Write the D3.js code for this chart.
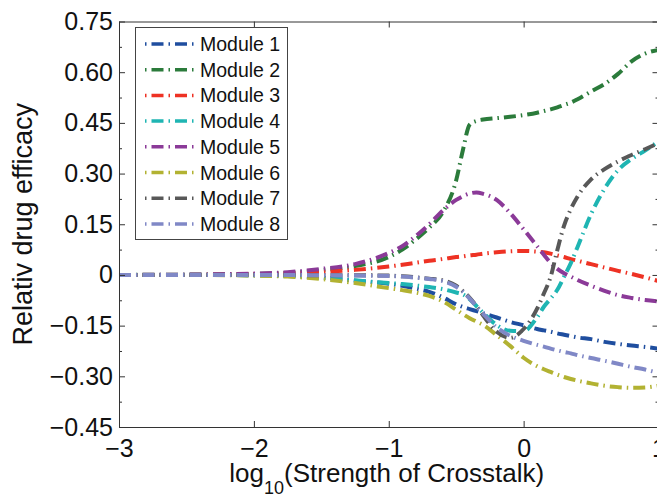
<!DOCTYPE html>
<html>
<head>
<meta charset="utf-8">
<script src="https://cdn.jsdelivr.net/npm/d3@7"></script>
<style>
	body { margin: 0; background: #fff; }
	text { font-family: "Liberation Sans", Arial, sans-serif; fill: #111; }
</style>
</head>
<body>
<div id="chart"></div>
<script>
//Shared x positions (log10 of crosstalk strength)
var xs = [-3, -2.5, -2, -1.75, -1.5, -1.25, -1, -0.9, -0.8, -0.7, -0.6, -0.5, -0.45, -0.4, -0.35, -0.3,
	-0.2, -0.1, 0, 0.1, 0.15, 0.2, 0.25, 0.3, 0.35, 0.4, 0.5, 0.6, 0.7, 0.8, 0.9, 1];

//Relative drug efficacy of each module
var module1 = [0, 0, -0.001, -0.003, -0.008, -0.017, -0.026, -0.032, -0.04, -0.05, -0.066, -0.087, -0.095, -0.101, -0.107, -0.113,
	-0.126, -0.139, -0.149, -0.16, -0.164, -0.168, -0.173, -0.177, -0.181, -0.185, -0.19, -0.198, -0.204, -0.209, -0.213, -0.218];
var module2 = [0, 0.001, 0.003, 0.006, 0.014, 0.026, 0.053, 0.075, 0.105, 0.14, 0.185, 0.28, 0.37, 0.445, 0.456, 0.46,
	0.464, 0.468, 0.473, 0.48, 0.485, 0.49, 0.496, 0.503, 0.51, 0.52, 0.543, 0.565, 0.595, 0.632, 0.655, 0.666];
var module3 = [0, 0, 0.002, 0.004, 0.009, 0.015, 0.025, 0.03, 0.036, 0.042, 0.047, 0.053, 0.055, 0.058, 0.06, 0.063,
	0.067, 0.07, 0.071, 0.069, 0.067, 0.063, 0.058, 0.053, 0.047, 0.042, 0.032, 0.022, 0.012, 0.003, -0.007, -0.018];
var module4 = [0, 0, -0.001, -0.003, -0.008, -0.016, -0.024, -0.027, -0.031, -0.036, -0.042, -0.052, -0.058, -0.072, -0.092, -0.112,
	-0.148, -0.165, -0.166, -0.125, -0.094, -0.07, -0.044, -0.005, 0.035, 0.083, 0.18, 0.255, 0.31, 0.343, 0.368, 0.395];
var module5 = [0, 0.001, 0.004, 0.008, 0.018, 0.032, 0.065, 0.085, 0.115, 0.15, 0.19, 0.222, 0.233, 0.241, 0.244, 0.24,
	0.222, 0.183, 0.135, 0.085, 0.06, 0.036, 0.018, 0.005, -0.005, -0.015, -0.032, -0.047, -0.06, -0.068, -0.074, -0.078];
var module6 = [0, 0, -0.002, -0.005, -0.012, -0.024, -0.039, -0.045, -0.052, -0.062, -0.078, -0.103, -0.116, -0.128, -0.138, -0.148,
	-0.178, -0.21, -0.245, -0.27, -0.279, -0.287, -0.295, -0.302, -0.308, -0.313, -0.321, -0.328, -0.332, -0.334, -0.333, -0.328];
var module7 = [0, 0, 0, 0, -0.001, -0.001, -0.002, -0.004, -0.007, -0.011, -0.016, -0.032, -0.048, -0.068, -0.092, -0.12,
	-0.168, -0.186, -0.16, -0.1, -0.055, -0.006, 0.074, 0.146, 0.195, 0.232, 0.283, 0.313, 0.336, 0.355, 0.372, 0.39];
var module8 = [0, 0, 0, 0, -0.001, -0.002, -0.003, -0.005, -0.008, -0.012, -0.018, -0.035, -0.05, -0.07, -0.093, -0.115,
	-0.155, -0.18, -0.195, -0.207, -0.212, -0.218, -0.223, -0.228, -0.232, -0.237, -0.246, -0.254, -0.263, -0.272, -0.28, -0.29];

var names = ["Module 1", "Module 2", "Module 3", "Module 4", "Module 5", "Module 6", "Module 7", "Module 8"];
var colors = ["#1f4e9f", "#2b7b3b", "#ee3224", "#1fb5b3", "#8b3a98", "#b2b232", "#585858", "#8088c6"];

//Tick values and labels
var xTicks = [-3, -2, -1, 0, 1];
var xTickLabels = ["\u22123", "\u22122", "\u22121", "0", "1"];
var yTicks = [0.75, 0.6, 0.45, 0.3, 0.15, 0, -0.15, -0.3, -0.45];
var yTickLabels = ["0.75", "0.60", "0.45", "0.30", "0.15", "0", "\u22120.15", "\u22120.30", "\u22120.45"];
var yMinorTicks = [0.675, 0.525, 0.375, 0.225, 0.075, -0.075, -0.225, -0.375];

(function () {
	var w = 657;
	var h = 495;
	var left = 119, right = 658.5, top = 21.5, bottom = 427;
	var axisColor = "#333";

	var series = [module1, module2, module3, module4, module5, module6, module7, module8];

	var xScale = d3.scaleLinear().domain([-3, 1]).range([left, right]);
	var yScale = d3.scaleLinear().domain([-0.45, 0.75]).range([bottom, top]);

	var svg = d3.select("#chart")
		.append("svg")
		.attr("width", w)
		.attr("height", h);

	//Curves
	var line = d3.line()
		.x(function (d) { return xScale(d[0]); })
		.y(function (d) { return yScale(d[1]); })
		.curve(d3.curveMonotoneX);

	svg.selectAll("path.curve")
		.data(series)
		.enter()
		.append("path")
		.attr("class", "curve")
		.attr("d", function (vals) {
			return line(vals.map(function (v, i) { return [xs[i], v]; }));
		})
		.attr("fill", "none")
		.attr("stroke", function (d, i) { return colors[i]; })
		.attr("stroke-width", 4)
		.attr("stroke-dasharray", "12,5,1.5,5");

	//Axes, ticks pointing inward like the original
	function style(g) {
		g.select(".domain").attr("stroke", axisColor);
		g.selectAll(".tick line").attr("stroke", axisColor);
		g.selectAll(".tick text").attr("font-size", "25px").attr("fill", "#111")
			.attr("font-family", "'Liberation Sans', Arial, sans-serif");
	}

	svg.append("g")
		.attr("transform", "translate(0," + bottom + ")")
		.call(d3.axisBottom(xScale).tickValues(xTicks).tickSize(-6).tickSizeOuter(0).tickPadding(12)
			.tickFormat(function (d, i) { return xTickLabels[i]; }))
		.call(style);

	svg.append("g")
		.attr("transform", "translate(0," + top + ")")
		.call(d3.axisTop(xScale).tickValues(xTicks).tickSize(-6).tickSizeOuter(0).tickFormat(""))
		.call(style);

	svg.append("g")
		.attr("transform", "translate(" + left + ",0)")
		.call(d3.axisLeft(yScale).tickValues(yTicks).tickSize(-6).tickSizeOuter(0).tickPadding(6)
			.tickFormat(function (d, i) { return yTickLabels[i]; }))
		.call(style);

	svg.append("g")
		.attr("transform", "translate(" + right + ",0)")
		.call(d3.axisRight(yScale).tickValues(yTicks).tickSize(-6).tickSizeOuter(0).tickFormat(""))
		.call(style);

	//Minor ticks on both y sides
	svg.append("g")
		.attr("transform", "translate(" + left + ",0)")
		.call(d3.axisLeft(yScale).tickValues(yMinorTicks).tickSize(-3).tickFormat(""))
		.call(style)
		.call(function (g) { g.select(".domain").remove(); });

	svg.append("g")
		.attr("transform", "translate(" + right + ",0)")
		.call(d3.axisRight(yScale).tickValues(yMinorTicks).tickSize(-3).tickFormat(""))
		.call(style)
		.call(function (g) { g.select(".domain").remove(); });

	//Axis titles
	var xTitle = svg.append("text")
		.attr("text-anchor", "middle")
		.attr("x", (left + right) / 2 - 2)
		.attr("y", 482)
		.attr("font-size", "26px");
	xTitle.append("tspan").text("log");
	xTitle.append("tspan").attr("font-size", "18px").attr("dy", 12).text("10");
	xTitle.append("tspan").attr("dy", -12).text("(Strength of Crosstalk)");

	svg.append("text")
		.attr("text-anchor", "middle")
		.attr("transform", "translate(32," + ((top + bottom) / 2) + ")rotate(-90)")
		.attr("font-size", "27px")
		.text("Relativ drug efficacy");

	//Legend
	var legend = svg.append("g");
	legend.append("rect")
		.attr("x", 135.5)
		.attr("y", 27.5)
		.attr("width", 152)
		.attr("height", 212)
		.attr("fill", "#fff")
		.attr("stroke", "#444");

	var rows = legend.selectAll("g.row")
		.data(names)
		.enter()
		.append("g")
		.attr("class", "row")
		.attr("transform", function (d, i) { return "translate(0," + (44 + i * 25.7) + ")"; });

	rows.append("line")
		.attr("x1", 145)
		.attr("x2", 194)
		.attr("stroke", function (d, i) { return colors[i]; })
		.attr("stroke-width", 3.5)
		.attr("stroke-dasharray", "1.5,5,12,5");

	rows.append("text")
		.attr("x", 200)
		.attr("y", 7)
		.attr("font-size", "19.5px")
		.text(function (d) { return d; });
})();
</script>
</body>
</html>
